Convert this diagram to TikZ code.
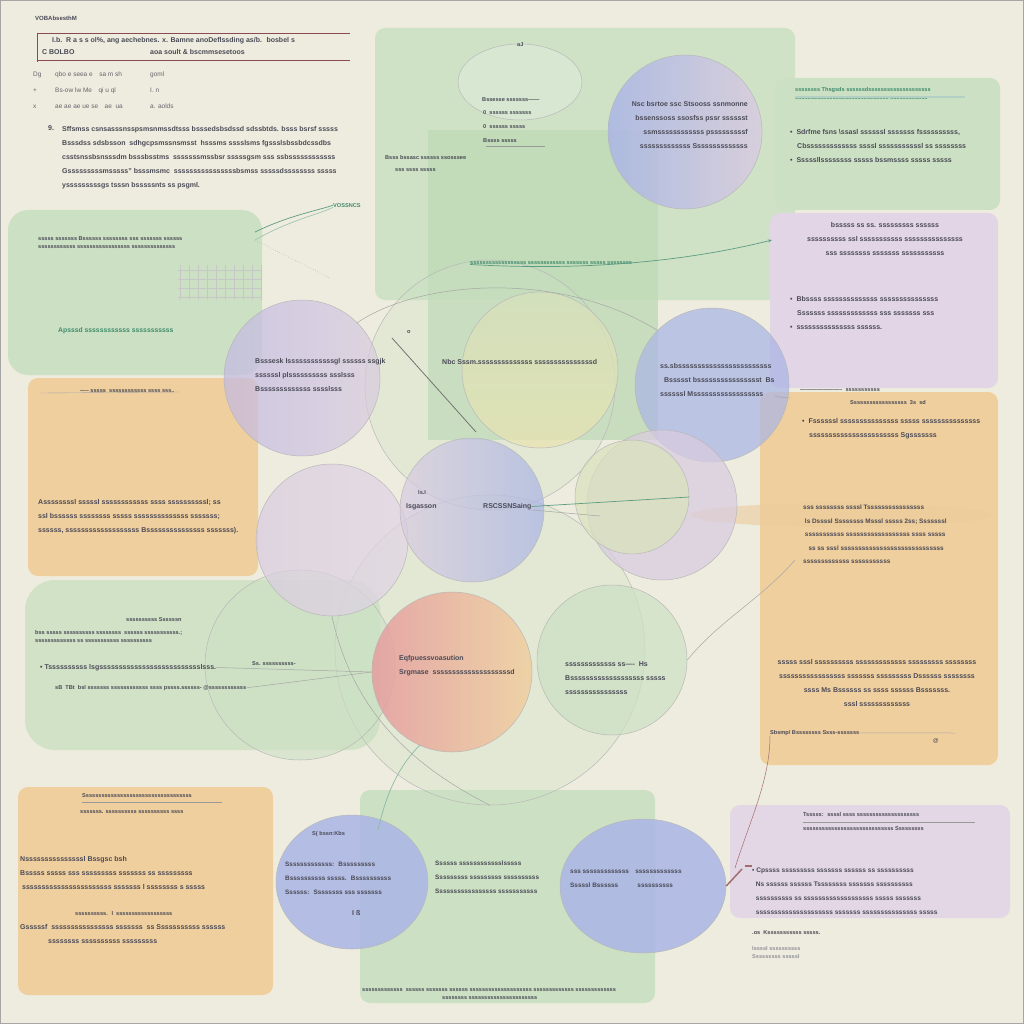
\documentclass[tikz,border=0pt]{standalone}
\usepackage{fontspec}
\setmainfont{Liberation Sans}
\usetikzlibrary{arrows.meta,shapes.geometric}
\definecolor{bgc}{HTML}{EEECDE}
\definecolor{grn}{HTML}{CCE1C4}
\definecolor{grnd}{HTML}{BFDAB6}
\definecolor{lav}{HTML}{E2D5E6}
\definecolor{org}{HTML}{F0CF9E}
\definecolor{blu}{HTML}{AAB5E6}
\definecolor{pur}{HTML}{C2B9E3}
\definecolor{pnk}{HTML}{D9CCE0}
\definecolor{yel}{HTML}{E9E3B0}
\definecolor{redc}{HTML}{E69C9E}
\definecolor{txt}{HTML}{4A4A56}
\definecolor{gtxt}{HTML}{3F8A6C}
\definecolor{dred}{HTML}{8C4B52}
\begin{document}
\begin{tikzpicture}[x=1pt,y=-1pt,
  panel/.style={rounded corners=10pt},
  bub/.style={draw=black!28, line width=0.5pt, fill opacity=0.72, inner sep=0pt},
  tx/.style={font=\fontsize{7}{14}\selectfont\bfseries, text=txt, inner sep=0pt, align=left, anchor=north west},
  txr/.style={tx, align=right, anchor=north east},
  txc/.style={tx, align=center, anchor=north},
  ts/.style={tx, font=\fontsize{5.6}{8.5}\selectfont\bfseries},
  tg/.style={tx, text=gtxt},
  conn/.style={draw=black!35, line width=0.5pt},
  gconn/.style={draw=gtxt!85, line width=0.7pt},
  rconn/.style={draw=redc!70!black, line width=0.5pt}
]
\fill[bgc] (0,0) rectangle (1024,1024);
\useasboundingbox (0,0) rectangle (1024,1024);
\draw[black!35, line width=1pt] (0.5,0.5) rectangle (1023.5,1023.5);

% ---------- panels ----------
\fill[grn, panel, opacity=0.9] (375,28) rectangle (795,300);
\fill[grnd, opacity=0.8] (428,130) rectangle (658,440);
\fill[grn, panel] (775,78) rectangle (1000,210);
\fill[lav, panel] (770,213) rectangle (998,388);
\fill[grn, panel, rounded corners=20pt] (8,210) rectangle (262,375);
\fill[org, panel] (28,378) rectangle (258,576);
\fill[grn, rounded corners=30pt, opacity=0.85] (25,580) rectangle (380,750);
\fill[org, panel] (760,392) rectangle (998,765);
\fill[org!80!black!8!org, opacity=0.6] (840,515) ellipse [x radius=150pt, y radius=12pt];
\fill[org, panel] (18,787) rectangle (273,995);
\fill[lav, panel, opacity=0.9] (730,805) rectangle (1010,918);
\fill[grn, panel] (360,790) rectangle (655,1003);

% ---------- bubbles ----------
\node[bub, ellipse, minimum width=124pt, minimum height=76pt, fill=grn!70!white] (e0) at (520,82) {};
\node[bub, circle, minimum size=310pt, fill=grn, fill opacity=0.35] (c10) at (490,650) {};
\node[bub, circle, minimum size=250pt, fill=grn, fill opacity=0.35] (cb) at (490,385) {};
\node[bub, circle, minimum size=190pt, fill=grn, fill opacity=0.6] (c8) at (300,665) {};
\node[bub, circle, minimum size=152pt, left color=pnk, right color=lav] (c4) at (332,540) {};
\node[bub, circle, minimum size=156pt, left color=pur, right color=pnk] (c1) at (302,378) {};
\node[bub, circle, minimum size=156pt, top color=grn!60!yel, bottom color=yel] (c2) at (540,370) {};
\node[bub, circle, minimum size=154pt, fill=blu] (c3) at (712,385) {};
\node[bub, circle, minimum size=150pt, fill=pnk] (c5) at (662,505) {};
\node[bub, circle, minimum size=114pt, fill=grn!60!yel] (c6) at (632,497) {};
\node[bub, circle, minimum size=144pt, left color=pnk, right color=blu] (c7) at (472,510) {};
\node[bub, circle, minimum size=150pt, fill=grn] (c9) at (612,660) {};
\node[bub, circle, minimum size=160pt, left color=redc, right color=org, fill opacity=0.85] (c11) at (452,672) {};
\node[bub, circle, minimum size=154pt, left color=blu, right color=pnk, fill opacity=0.85] (c0) at (685,132) {};
\node[bub, ellipse, minimum width=152pt, minimum height=134pt, fill=blu, fill opacity=0.85] (e1) at (352,882) {};
\node[bub, ellipse, minimum width=166pt, minimum height=134pt, fill=blu, fill opacity=0.85] (e2) at (643,886) {};

% ---------- top-left text block ----------
\node[tx, font=\fontsize{6}{7}\selectfont\bfseries] (ttl) at (35,16) {VOBAbsesthM};
\draw[dred, line width=0.6pt] (37,33) -- (350,33) (37,60) -- (350,60) (37,33) -- (37,62);
\node[tx] (tl1) at (52,37) {I.b.\ \ R a s s ol\%, ang aechebnes. x. Bamne anoDeflssding as/b. \ bosbel s};
\node[tx] (tl2) at (42,49) {C BOLBO};
\node[tx] (tl3) at (150,49) {aoa soult \& bscmmsesetoos};
\node[tx, font=\fontsize{6.5}{16}\selectfont, text=txt!85] (tl4) at (33,72) {Dg\\+\\x};
\node[tx, font=\fontsize{6.5}{16}\selectfont, text=txt!85] (tl5) at (55,72) {qbo e seea e\quad sa m sh\\Bs-ow lw Me\quad qi u ql\\ae ae ae ue se\quad ae \ ua};
\node[tx, font=\fontsize{6.5}{16}\selectfont, text=txt!85] (tl6) at (150,72) {goml\\I. n\\a. aolds};
\node[tx] (tl7) at (48,125) {9.};
\node[tx] (tl8) at (62,126) {Sffsmss csnsasssnsspsmsnmssdtsss bsssedsbsdssd sdssbtds. bsss bsrsf sssss\\
Bsssdss sdsbsson \ sdhgcpsmssnsmsst \ hsssms sssslsms fgssslsbssbdcssdbs\\
csstsnssbsnsssdm bsssbsstms \ sssssssmssbsr sssssgsm sss ssbssssssssssss\\
Gsssssssssmsssss" bsssmsmc \ ssssssssssssssssbsmss sssssdssssssss sssss\\
ysssssssssgs tsssn bsssssnts ss psgml.};

% ---------- top centre ----------
\node[ts] (tc0) at (517,42) {aJ};
\node[ts] (tc1) at (482,97) {Bssesse sssssss------};
\node[ts] (tc2) at (483,110) {0\ \ ssssss sssssss};
\node[ts] (tc3) at (483,124) {0\ \ ssssss sssss};
\node[ts] (tc4) at (483,138) {Bssss sssss};
\draw[black!40] (486,146) -- (545,146);
\node[ts] (tc5) at (385,155) {Bsss bssasc ssssss ssosssee};
\node[ts] (tc6) at (395,168) {sss ssss sssss};

% top-right circle text
\node[txr] (tr0) at (748,101) {Nsc bsrtoe ssc Stsooss ssnmonne\\bssenssoss ssosfss pssr sssssst\\ssmssssssssssss psssssssssf\\sssssssssssss Ssssssssssssss};

% right green panel
\node[ts, text=gtxt] (rg0) at (795,87) {ssssssss Thsgsds ssssssdssssssssssssssssssss\\ssssssssssssssssssssssssssssss ssssssssssss};
\draw[gtxt!40, line width=2pt] (795,97) -- (965,97);
\node[tx] (rg1) at (790,129) {\textbullet\ \ Sdrfme fsns \textbackslash ssasl ssssssl sssssss fssssssssss,\\
\quad Cbsssssssssssss ssssl sssssssssssl ss ssssssss\\
\textbullet\ \ Sssssllssssssss sssss bssmssss sssss sssss};

% right lavender panel
\node[txc] (rl0) at (885,222) {bsssss ss ss. sssssssss ssssss\\ssssssssss ssl sssssssssss sssssssssssssss\\sss ssssssss sssssss sssssssssss};
\node[tx] (rl1) at (790,296) {\textbullet\ \ Bbssss ssssssssssssss sssssssssssssss\\
\quad Sssssss sssssssssssss sss sssssss sss\\
\textbullet\ \ sssssssssssssss ssssss.};

% left green panel
\node[ts] (lg0) at (38,236) {sssss sssssss Bssssss ssssssss sss sssssss ssssss\\ssssssssssss sssssssssssssssss ssssssssssssss};
\node[tg, font=\fontsize{6.8}{8}\selectfont\bfseries] (lg1) at (58,327) {Apsssd ssssssssssss sssssssssss};
\draw[black!22, step=9pt, very thin] (178,265) grid (262,300);
\node[ts, text=gtxt] (lg2) at (333,203) {VOSSNCS};
\coordinate (k1) at (255,232);
\coordinate (k2) at (255,240);
\coordinate (k3) at (330,278);
\draw[gconn] (k1) .. controls (290,215) and (320,210) .. (lg2.west);
\draw[gconn, draw=gtxt!50] (k2) .. controls (290,220) and (320,214) .. (lg2.south west);
\draw[conn, dotted] (k2) -- (k3);

% left orange panel
\node[ts] (lo0) at (80,389) {----- sssss\ \ ssssssssssss ssss sss..};
\draw[black!35] (40,393) -- (180,392);
\node[tx] (lo1) at (38,499) {Assssssssl sssssl ssssssssssss ssss ssssssssssl; ss\\
ssl bssssss ssssssss sssss ssssssssssssss sssssss;\\
ssssss, sssssssssssssssssss Bsssssssssssssss sssssss).};

% circle texts
\node[tx] (c1t) at (255,358) {Bsssesk lssssssssssssgl ssssss ssgjk\\ssssssl plssssssssss ssslsss\\Bsssssssssssss sssslsss};
\node[tx] (c2t) at (442,359) {Nbc Sssm.ssssssssssssss sssssssssssssssd};
\node[ts] (c2o) at (407,330) {o};
\node[tx] (c3t) at (660,363) {ss.sbssssssssssssssssssssssss\\\ \ Bssssst bsssssssssssssssst ~Bs\\ssssssl Mssssssssssssssssss};
\draw[conn] (c3t.south east) -- (790,398);
\node[ts] (c7a) at (418,490) {ls.I};
\node[tx] (c7t) at (406,503) {Isgasson};
\node[tx] (c7u) at (483,503) {RSCSSNSaing};
\node[tx] (c11t) at (399,655) {Eqfpuessvoasution\\Srgmase \ ssssssssssssssssssssd};
\node[tx] (c9t) at (565,661) {sssssssssssss ss---- \ Hs\\Bsssssssssssssssssss sssss\\ssssssssssssssss};

% connectors in the centre
\coordinate (d1) at (392,338);
\coordinate (d2) at (476,432);
\draw[black!55, line width=0.8pt] (d1) -- (d2);
\draw[gconn] (c7u.east) -- (c6.east);
\draw[conn] (c7u.south east) -- (600,516);
\node[ts, text=gtxt] (ga) at (470,261) {ssssssssssssssssss ssssssssssss sssssss sssss ssssssss};
\coordinate (ga2) at (772,240);
\draw[gconn, -{Stealth[length=4pt]}] (ga.south west) .. controls (600,272) and (700,258) .. (ga2);
\draw[conn] (c1.north east) .. controls (420,280) and (560,270) .. (c3.north west);
\draw[conn] (c4.south) .. controls (350,700) and (400,760) .. (c10.south);
\draw[conn] (c9.east) .. controls (720,620) and (760,600) .. (795,560);

% left lower green texts
\node[ts] (ll0) at (126,617) {ssssssssss Ssssssn};
\node[ts] (ll1) at (35,630) {bss sssss ssssssssss ssssssss \ ssssss sssssssssss.;\\sssssssssssss ss sssssssssss ssssssssss};
\node[tx] (ll2) at (40,664) {\textbullet\ Tssssssssss lsgsssssssssssssssssssssssssslsss.};
\node[ts] (ll3) at (252,661) {Ss. ssssssssss-};
\draw[conn] (ll2.east) -- (c11.west);
\node[ts] (ll4) at (55,685) {sB \ TBt \ bsl sssssss ssssssssssss ssss pssss.ssssss- @ssssssssssss};
\draw[conn] (ll4.east) -- (c11.west);

% right orange texts
\node[ts] (ro0) at (800,388) {----------------------- \ sssssssssss};
\node[ts] (ro1) at (850,400) {Ssssssssssssssssss \ 3s \ sd};
\node[tx] (ro2) at (802,418) {\textbullet\ \ Fssssssl sssssssssssssss sssss sssssssssssssss\\\quad sssssssssssssssssssssss Sgsssssss};
\node[tx, font=\fontsize{6.4}{13.5}\selectfont\bfseries] (ro3) at (803,505) {sss ssssssss ssssl Tssssssssssssssss\\
\ ls Dssssl Ssssssss Msssl sssss 2ss; Sssssssl\\
\ sssssssssss ssssssssssssssssss ssss sssss\\
\ \ \ ss ss sssl sssssssssssssssssssssssssssss\\
sssssssssssss sssssssssss};
\node[txc] (ro4) at (877,659) {sssss sssl ssssssssss sssssssssssss sssssssss ssssssss\\sssssssssssssssss sssssss sssssssss Dssssss ssssssss\\ssss Ms Bssssss ss ssss ssssss Bsssssss.\\sssl sssssssssssss};
\node[ts] (ro5) at (770,730) {Sbsmp/ Bssssssss Ssss-sssssss};
\draw[conn] (ro5.east) -- (955,733);
\node[ts] (ro6) at (933,738) {@};
\coordinate (r1) at (735,868);
\draw[rconn] (r1) .. controls (750,820) and (770,780) .. (ro5.south west);
\draw[rconn, line width=1.5pt] (745,866) -- (752,866);

% bottom-left orange panel
\node[ts] (bo0) at (82,793) {Sssssssssssssssssssssssssssssssssss};
\draw[black!40] (82,802) -- (222,802);
\node[ts] (bo1) at (80,810) {sssssss. ssssssssss ssssssssss ssss};
\node[tx] (bo2) at (20,856) {Nsssssssssssssssl Bssgsc bsh\\Bsssss sssss sss sssssssss sssssss ss sssssssss\\\ sssssssssssssssssssssss sssssss l ssssssss s sssss};
\node[ts] (bo3) at (75,911) {ssssssssss. \ l \ ssssssssssssssssss};
\node[tx] (bo4) at (20,924) {Gsssssf \ ssssssssssssssss sssssss \ ss Sssssssssss ssssss\\\qquad\qquad ssssssss ssssssssss sssssssss};

% bottom ellipses and green
\node[ts] (b1) at (312,831) {S( bssn:Kbs};
\node[tx, font=\fontsize{6.4}{14}\selectfont\bfseries] (b2) at (285,862) {Sssssssssssss: \ Bsssssssss\\Bssssssssss sssss. \ Bssssssssss\\Ssssss: \ Ssssssss sss sssssss};
\node[tx] (b3) at (352,910) {I ß};
\node[tx, font=\fontsize{6.4}{14}\selectfont\bfseries] (b4) at (435,861) {Ssssss sssssssssssslsssss\\Sssssssss sssssssss ssssssssss\\Sssssssssssssssss sssssssssss};
\node[ts] (b5) at (362,988) {sssssssssssss \ ssssss sssssss ssssss ssssssssssssssssssss sssssssssssss sssssssssssss\\\hspace{80pt}ssssssss ssssssssssssssssssssss};
\node[tx, font=\fontsize{6.4}{14}\selectfont\bfseries] (b6) at (570,870) {sss sssssssssssss\quad sssssssssssss\\Sssssl Bssssss\qquad\quad ssssssssss};
\coordinate (g1) at (420,745);
\coordinate (g2) at (378,830);
\draw[gconn, draw=gtxt!60] (g1) .. controls (395,770) and (385,800) .. (g2);

% bottom-right lavender panel
\node[ts] (bl0) at (803,812) {Tsssss: \ ssssl ssss ssssssssssssssssssss};
\draw[black!40] (803,822) -- (975,822);
\node[ts] (bl1) at (803,826) {sssssssssssssssssssssssssssss Sssssssss};
\node[tx, font=\fontsize{6.6}{14}\selectfont\bfseries] (bl2) at (752,868) {\textbullet\ Cpssss sssssssss sssssss ssssss ss ssssssssss\\\ \ Ns ssssss ssssss Tssssssss sssssss ssssssssss\\\ \ ssssssssss ss sssssssssssssssssss sssss sssssss\\\ \ sssssssssssssssssssss sssssss sssssssssssssss sssss};
\node[ts] (bl3) at (752,930) {.os\ \ Ksssssssssss sssss.};
\node[ts, text=txt!60] (bl4) at (752,946) {Issssl ssssssssss\\Sssssssss sssssl};
\draw[rconn, line width=1.5pt] (e2.east) -- (742,869);
\end{tikzpicture}
\end{document}
